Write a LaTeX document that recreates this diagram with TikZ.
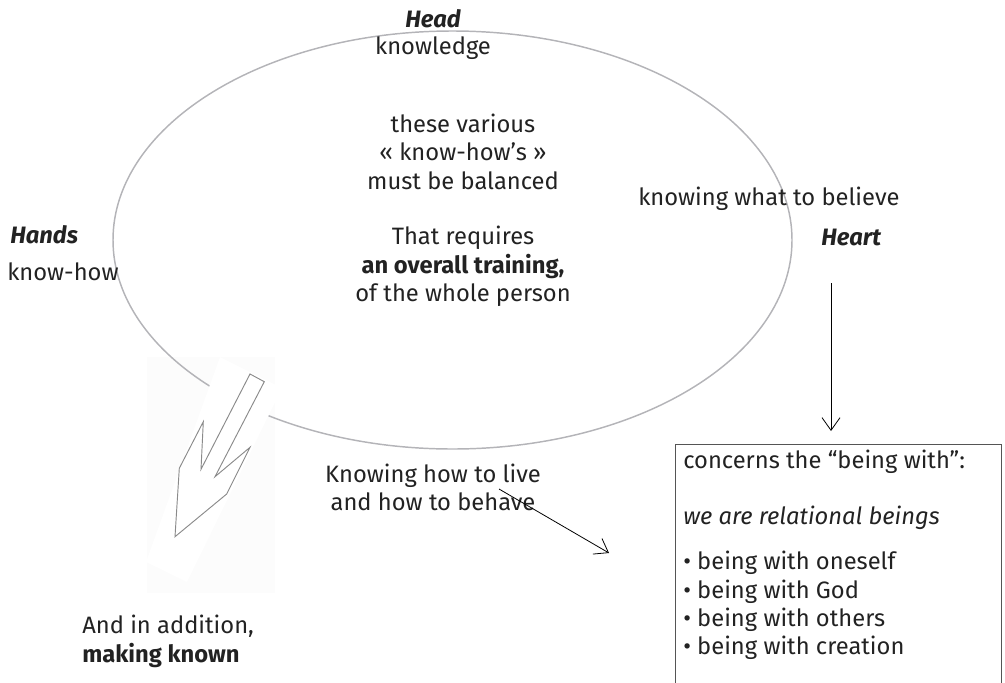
\documentclass[tikz,border=0pt]{standalone}
\usepackage{fontspec}
\setmainfont{Fira Sans}
\usetikzlibrary{arrows.meta,shapes.geometric}
\definecolor{txt}{HTML}{222222}
\definecolor{ovalcol}{HTML}{B4B4B8}
\definecolor{arrowcol}{HTML}{8A8A8A}
\definecolor{boxcol}{HTML}{555555}
\definecolor{imgbg}{HTML}{FCFCFC}
\begin{document}
\begin{tikzpicture}[x=0.75pt,y=-0.75pt,
  lbl/.style={font=\fontsize{17.8}{21.4}\selectfont, text=txt, inner sep=0pt, align=center},
  lblleft/.style={lbl, anchor=west, align=left},
  title/.style={lbl, font=\fontsize{17.8}{21.4}\selectfont\bfseries\itshape},
  oval/.style={draw=ovalcol, line width=1.1pt, ellipse, inner sep=0pt,
    minimum width=509.25pt, minimum height=313.5pt},
  conn/.style={draw=black, line width=0.6pt, -{Straight Barb[length=9.5pt,width=13.5pt,line width=0.6pt]}},
  infobox/.style={draw=boxcol, line width=0.75pt}
]
\useasboundingbox (0,0) rectangle (1005,682);

% faint picture background of the lightning arrow
\fill[imgbg] (147,357) rectangle (275,593);

% the big oval
\node[oval] (oval) at (452.5,240) {};

% white band of the arrow picture, hiding part of the oval
\begin{scope}
  \clip (147,357) rectangle (275,593);
  \fill[white] (220,357) -- (282,388) -- (187,582) -- (146,562) -- cycle;
\end{scope}

% lightning arrow
\draw[arrowcol, line width=0.7pt, fill=white, line join=miter]
  (250,374) -- (264.3,381.7) -- (215,476.7) -- (250,447.3) -- (226.7,494)
  -- (175,536.7) -- (179.3,468.3) -- (203.3,421.7) -- (201,469.3) -- cycle;

% texts
\node[title] (head) at (433,19) {Head};
\node[lbl] (knowledge) at (433,48) {knowledge};
\node[lbl] (various) at (463,151.5) {these various\\« know-how’s »\\must be balanced};
\node[lbl] (requires) at (463,266.5) {That requires\\\textbf{an overall training,}\\of the whole person};
\node[title, anchor=west] (hands) at (10,235) {Hands};
\node[lblleft] (knowhow) at (7,272) {know-how};
\node[lblleft] (believe) at (638,199) {knowing what to believe};
\node[title, anchor=west] (heart) at (821,237) {Heart};
\node[lbl] (live) at (433,487.5) {Knowing how to live\\and how to behave};
\node[lblleft, anchor=north west] (addition) at (82,615) {And in addition,\\\textbf{making known}};

% info box
\draw[infobox] (675,700) -- (675,444) -- (1001,444) -- (1001,700);
\node[lblleft] (concerns) at (683,462) {concerns the “being with”:};
\node[lblleft, font=\fontsize{17.8}{21.4}\selectfont\itshape] (relational) at (683,518) {we are relational beings};
\node[lblleft] (b1) at (683,563) {• being with oneself};
\node[lblleft] (b2) at (683,592) {• being with God};
\node[lblleft] (b3) at (683,620) {• being with others};
\node[lblleft] (b4) at (683,648) {• being with creation};

% connectors
\coordinate (heartfrom) at (831,283);
\coordinate (heartto) at (831,431);
\draw[conn] (heartfrom) -- (heartto);
\coordinate (livefrom) at (499,489);
\coordinate (liveto) at (609,553);
\draw[conn] (livefrom) -- (liveto);
\end{tikzpicture}
\end{document}
